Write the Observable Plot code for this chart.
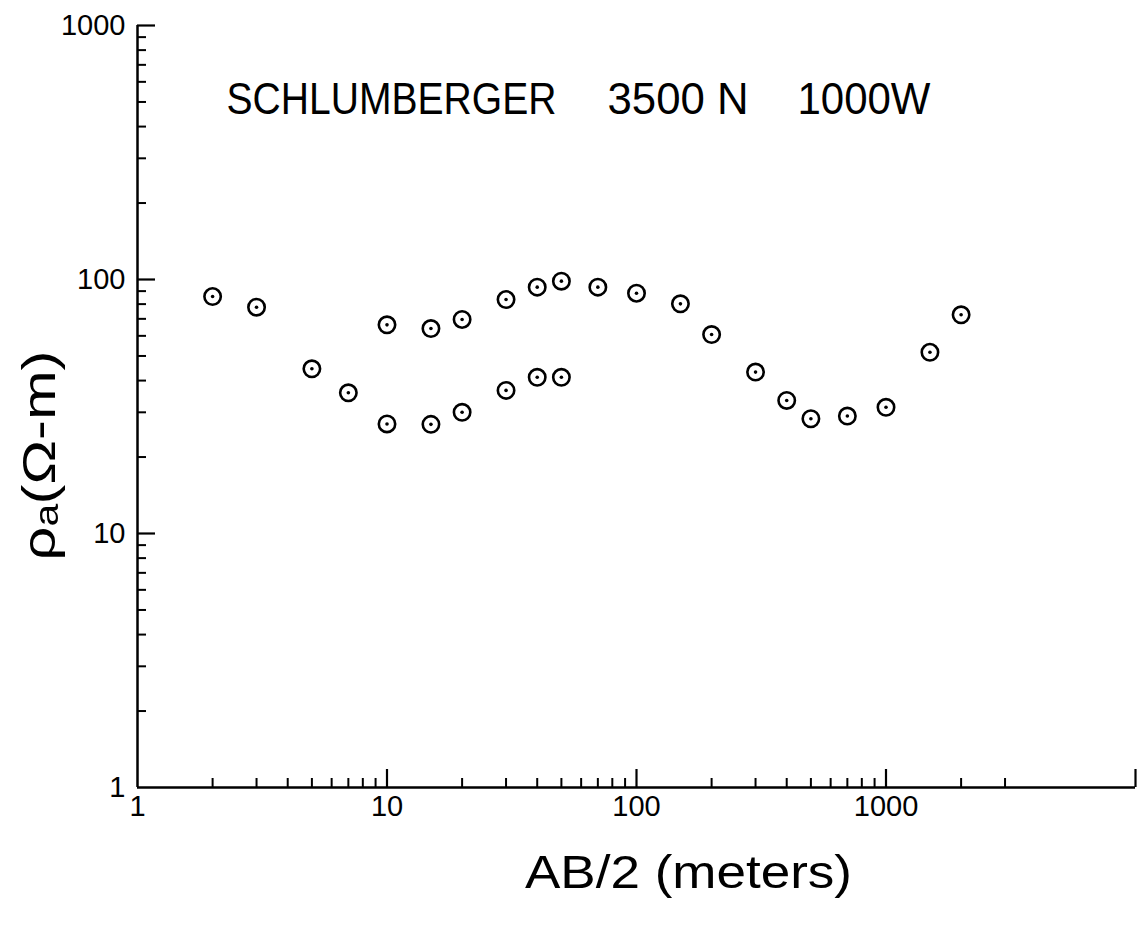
<!DOCTYPE html>
<html><head><meta charset="utf-8">
<script src="https://cdn.jsdelivr.net/npm/d3@7"></script>
<script src="https://cdn.jsdelivr.net/npm/@observablehq/plot@0.6"></script>
<style>body{margin:0;background:#fff}</style>
</head><body><div id="chart"></div>
<script>
// AB/2 electrode half-spacing (meters)
const spacing = [2, 3, 5, 7, 10, 10, 15, 15, 20, 20, 30, 30, 40, 40, 50, 50, 70, 100, 150, 200, 300, 400, 500, 700, 1000, 1500, 2000];
// apparent resistivity (ohm-m)
const resistivity = [85.7, 77.8, 44.5, 35.8, 66.3, 27.0, 64.1, 26.9, 69.6, 30.0, 83.4, 36.6, 93.3, 41.2, 98.5, 41.2, 93.3, 88.3, 80.2, 60.7, 43.2, 33.4, 28.3, 29.0, 31.4, 51.7, 72.6];

const xLabelTicks = [1, 10, 100, 1000];
const yLabelTicks = [1, 10, 100, 1000];
const xMajorTicks = [10, 100, 1000, 10000];
const xMinorTicks = [2,3,4,5,6,7,8,9, 20,30,40,50,60,70,80,90, 200,300,400,500,600,700,800,900, 2000,3000];
const yMajorTicks = [10, 100, 1000];
const yMinorTicks = [2,3,4,5,6,7,8,9, 20,30,40,50,60,70,80,90, 200,300,400,500,600,700,800,900];

const titleParts = ["SCHLUMBERGER", "3500 N", "1000W"];
const xTitle = "AB/2 (meters)";
const yTitle = "ρₐ(Ω-m)";

const data = spacing.map((s, i) => ({s, r: resistivity[i]}));

const W = 1137, H = 926, mL = 137, mR = 2, mT = 25, mB = 139;
const plotH = H - mT - mB, plotW = W - mL - mR;
const major = 18, minor = 9;
const font = "'Liberation Sans', Arial, sans-serif";

const chart = Plot.plot({
  width: W, height: H,
  marginLeft: mL, marginRight: mR, marginTop: mT, marginBottom: mB,
  style: {fontFamily: font, color: "black", background: "white"},
  x: {type: "log", domain: [1, 10000]},
  y: {type: "log", domain: [1, 1000]},
  marks: [
    Plot.ruleY([1], {strokeWidth: 2.5}),
    Plot.ruleX([1], {strokeWidth: 2.5}),
    Plot.tickX(xMajorTicks, {x: d => d, insetTop: plotH - major, strokeWidth: 2.2}),
    Plot.tickX(xMinorTicks, {x: d => d, insetTop: plotH - minor, strokeWidth: 2}),
    Plot.tickY(yMajorTicks, {y: d => d, insetRight: plotW - major, strokeWidth: 2.2}),
    Plot.tickY(yMinorTicks, {y: d => d, insetRight: plotW - minor, strokeWidth: 2}),
    Plot.axisX(xLabelTicks, {tickSize: 0, tickPadding: 8, fontSize: 29, tickFormat: d => String(d), label: null}),
    Plot.axisY(yLabelTicks, {tickSize: 0, tickPadding: 12, fontSize: 29, tickFormat: d => String(d), label: null}),
    Plot.dot(data, {x: "s", y: "r", r: 8.2, stroke: "black", strokeWidth: 2.6}),
    Plot.dot(data, {x: "s", y: "r", r: 1.8, fill: "black"}),
    Plot.text([titleParts[0]], {frameAnchor: "top-left", textAnchor: "start", dx: 89, dy: 57, fontSize: 44}),
    Plot.text([titleParts[1]], {frameAnchor: "top-left", textAnchor: "start", dx: 470, dy: 57, fontSize: 44}),
    Plot.text([titleParts[2]], {frameAnchor: "top-left", textAnchor: "start", dx: 660, dy: 57, fontSize: 44}),
    Plot.text([xTitle], {frameAnchor: "bottom", textAnchor: "middle", dx: 52, dy: 100, fontSize: 46}),
    Plot.text([yTitle], {frameAnchor: "left", textAnchor: "middle", rotate: -90, dx: -97, dy: 49, fontSize: 46})
  ]
});
document.getElementById("chart").appendChild(chart);

// stretch/condense the lettering to the plotter-lettering widths
const lengths = new Map([[titleParts[0], 330], [titleParts[1], 141], [titleParts[2], 133], [xTitle, 327], [yTitle, 210]]);
chart.querySelectorAll("text").forEach(t => {
  const L = lengths.get(t.textContent);
  if (L) { t.setAttribute("textLength", L); t.setAttribute("lengthAdjust", "spacingAndGlyphs"); }
});
</script>
</body></html>
